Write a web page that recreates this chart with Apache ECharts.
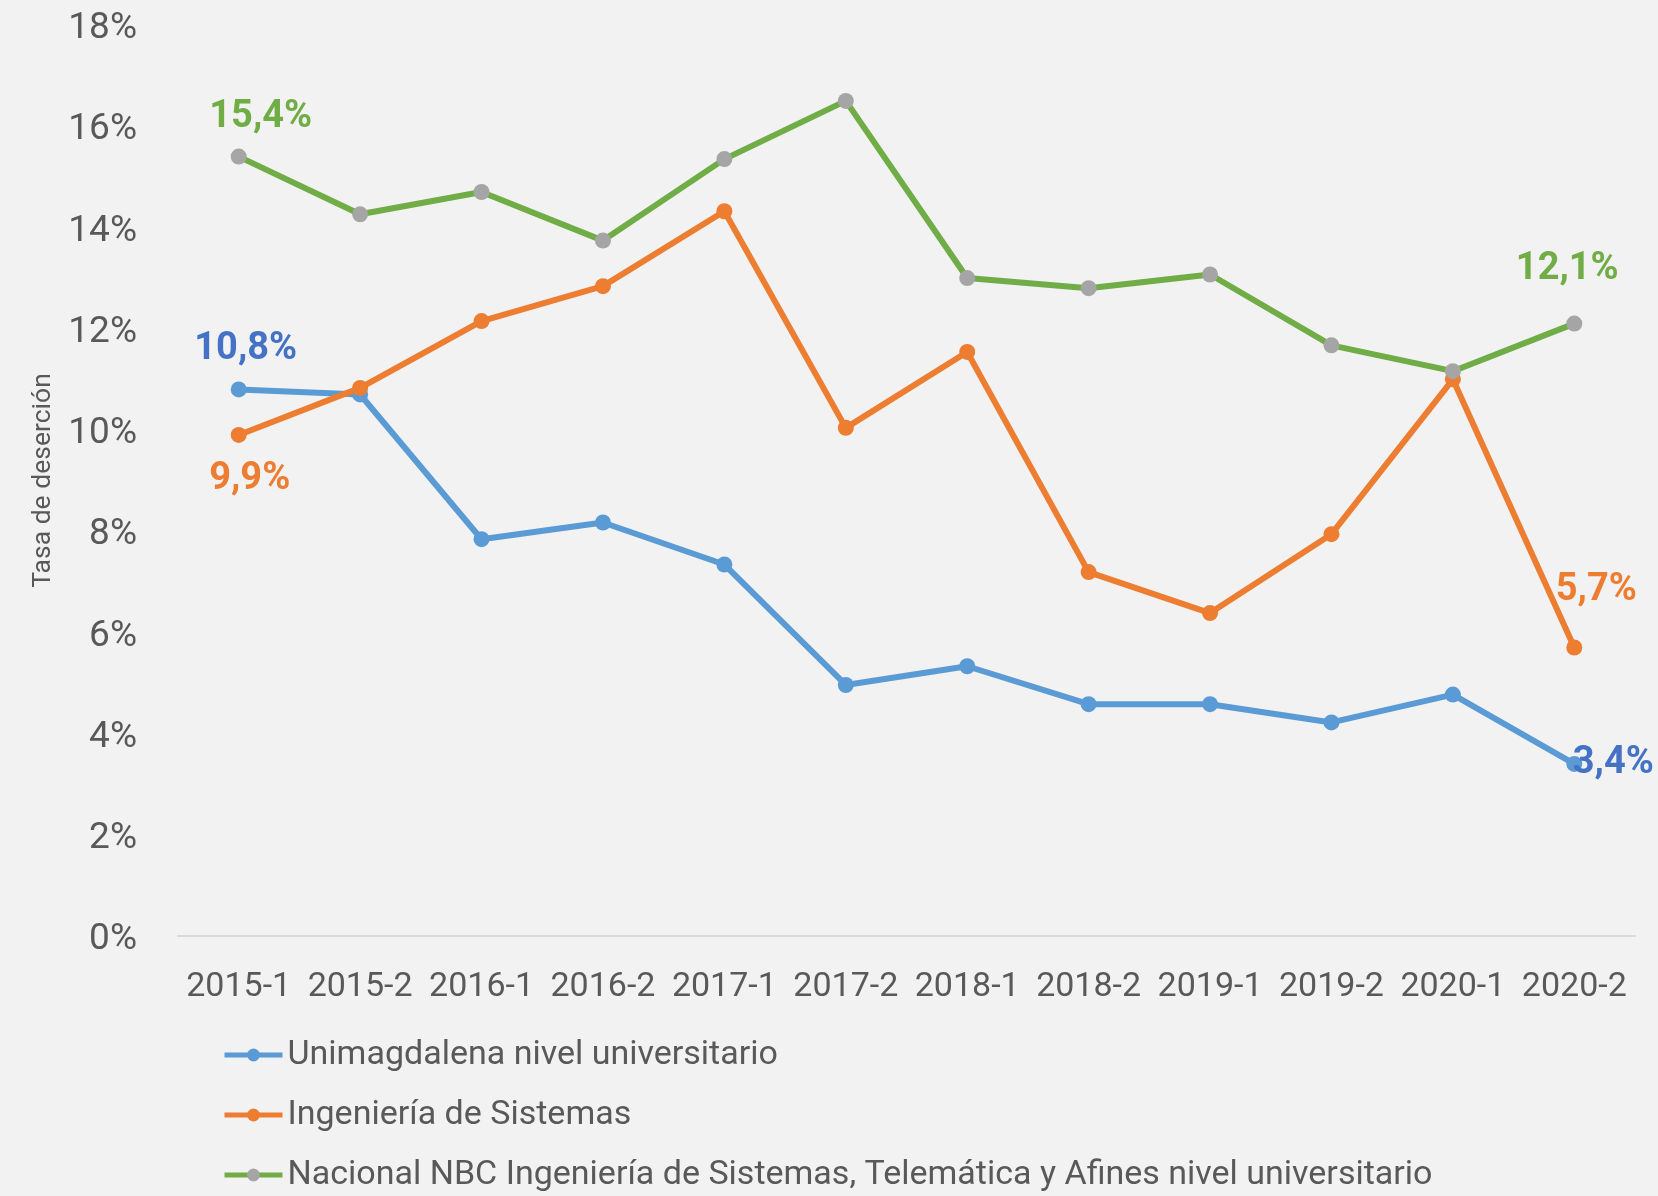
<!DOCTYPE html>
<html>
<head>
<meta charset="utf-8">
<script src="https://cdn.jsdelivr.net/npm/echarts@6/dist/echarts.min.js"></script>
<style>
  html, body { margin: 0; padding: 0; background: #F2F2F2; }
  #chart { width: 1658px; height: 1196px; }
</style>
</head>
<body>
<div id="chart"></div>
<script>
const categories = ['2015-1', '2015-2', '2016-1', '2016-2', '2017-1', '2017-2',
  '2018-1', '2018-2', '2019-1', '2019-2', '2020-1', '2020-2'];
const unimagdalena = [10.8, 10.7, 7.84, 8.17, 7.34, 4.96, 5.33, 4.58, 4.58, 4.22, 4.77, 3.4];
const sistemas = [9.9, 10.83, 12.15, 12.84, 14.32, 10.04, 11.54, 7.19, 6.38, 7.94, 11.0, 5.7];
const nacional = [15.4, 14.26, 14.7, 13.74, 15.35, 16.5, 13.0, 12.8, 13.07, 11.67, 11.16, 12.1];
const seriesNames = [
  'Unimagdalena nivel universitario',
  'Ingeniería de Sistemas',
  'Nacional NBC Ingeniería de Sistemas, Telemática y Afines nivel universitario',
];

const fontFamily = 'Roboto, "Open Sans", sans-serif';
const fmt = (v) => `${v.toFixed(1).replace('.', ',')}%`;

// etiqueta solo en el primer y último punto
function withLabels(values, color, firstOffset, lastOffset) {
  return values.map((v, i) => {
    const isFirst = i === 0;
    const isLast = i === values.length - 1;
    if (!isFirst && !isLast) return v;
    return {
      value: v,
      label: {
        show: true,
        position: 'inside',
        offset: isFirst ? firstOffset : lastOffset,
        formatter: (p) => fmt(p.value),
        color,
        fontFamily,
        fontWeight: 'bold',
        fontSize: 38,
      },
    };
  });
}

const chart = echarts.init(document.getElementById('chart'));
const option = {
  backgroundColor: '#F2F2F2',
  animation: false,
  grid: { left: 178, right: 23, top: 25, bottom: 260 },
  legend: {
    orient: 'vertical',
    left: 222,
    top: 1037,
    bottom: 0,
    padding: 0,
    itemWidth: 58,
    itemHeight: 16,
    itemGap: 24,
    lineStyle: { width: 5 },
    textStyle: { color: '#595959', fontFamily, fontSize: 34, lineHeight: 36 },
    data: seriesNames,
  },
  xAxis: {
    type: 'category',
    data: categories,
    boundaryGap: true,
    axisLine: { lineStyle: { color: '#D9D9D9', width: 2 } },
    axisTick: { show: false },
    axisLabel: { color: '#595959', fontFamily, fontSize: 34, margin: 34, interval: 0 },
  },
  yAxis: {
    type: 'value',
    min: 0,
    max: 18,
    interval: 2,
    name: 'Tasa de deserción',
    nameLocation: 'middle',
    nameRotate: 90,
    nameGap: 121,
    nameTextStyle: { color: '#595959', fontFamily, fontSize: 26.5 },
    splitLine: { show: false },
    axisLine: { show: false },
    axisTick: { show: false },
    axisLabel: {
      margin: 41,
      formatter: (v) => `{t|${v}%}`,
      rich: {
        t: { color: '#595959', fontFamily, fontSize: 37, padding: [8, 0, 0, 0] },
      },
    },
  },
  series: [
    {
      name: seriesNames[0],
      type: 'line',
      data: withLabels(unimagdalena, '#4472C4', [7, -40], [39, 0]),
      symbol: 'circle',
      symbolSize: 16,
      lineStyle: { color: '#5B9BD5', width: 6 },
      itemStyle: { color: '#5B9BD5' },
      z: 3,
    },
    {
      name: seriesNames[1],
      type: 'line',
      data: withLabels(sistemas, '#ED7D31', [11, 45], [22, -57]),
      symbol: 'circle',
      symbolSize: 16,
      lineStyle: { color: '#ED7D31', width: 6 },
      itemStyle: { color: '#ED7D31' },
      z: 4,
    },
    {
      name: seriesNames[2],
      type: 'line',
      data: withLabels(nacional, '#70AD47', [22, -39], [-7, -54]),
      symbol: 'circle',
      symbolSize: 16,
      lineStyle: { color: '#70AD47', width: 6 },
      itemStyle: { color: '#A5A5A5' },
      z: 5,
    },
  ],
};
chart.setOption(option);
</script>
</body>
</html>
